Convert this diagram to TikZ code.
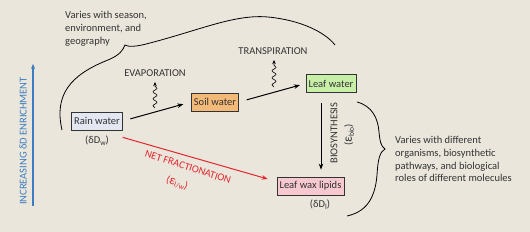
\documentclass[tikz,border=0pt]{standalone}
\usepackage{fontspec}
\setmainfont{Carlito}
\usetikzlibrary{arrows.meta,decorations.pathmorphing,calc}
\definecolor{bg}{HTML}{EAE6DC}
\definecolor{txt}{HTML}{333333}
\definecolor{bluec}{HTML}{3B7DC0}
\definecolor{redc}{HTML}{E3262E}
\definecolor{rainf}{HTML}{E4E6F2}
\definecolor{soilf}{HTML}{F2B978}
\definecolor{leaff}{HTML}{C8EFA8}
\definecolor{waxf}{HTML}{F6C8D0}
\newcommand\mysb[1]{\raisebox{-0.4ex}{\fontsize{7.5}{8}\selectfont #1}}
\newcommand\myeps{{\fontsize{13}{14}\selectfont ε}}
\begin{document}
\begin{tikzpicture}[x=1pt,y=-1pt,
  font=\fontsize{10.5}{12.8}\selectfont, text=txt,
  box/.style={draw=txt, line width=0.7pt, inner sep=2.5pt, minimum height=18pt},
  lbl/.style={inner sep=0pt},
  arr/.style={-{Stealth[length=6pt,width=4.5pt]}, line width=1pt, draw=black},
  wavy/.style={-{Stealth[length=4pt,width=3.5pt]}, line width=0.6pt, decorate,
     decoration={snake, amplitude=2pt, segment length=7pt, post length=4pt}},
  brc/.style={line width=0.8pt, draw=black}]
\fill[bg] (0,0) rectangle (530,232);
\useasboundingbox (0,0) rectangle (530,232);

% blue enrichment axis
\coordinate (ab) at (33,206);
\coordinate (at) at (33,64);
\draw[bluec, line width=1.2pt, -{Stealth[length=5pt,width=4pt]}] (ab) -- (at);
\node[lbl, text=bluec, rotate=90] (axl) at (23,141) {INCREASING δD ENRICHMENT};

% boxes
\node[box, fill=rainf] (rain) at (97,121) {Rain water};
\node[box, fill=soilf] (soil) at (215,102) {Soil water};
\node[box, fill=leaff] (leaf) at (331,83.5) {Leaf water};
\node[box, fill=waxf] (wax) at (310.5,186) {Leaf wax lipids};

\node[lbl] (dw) at (97,141) {(δD\mysb{w})};
\node[lbl] (dl) at (320,205) {(δD\mysb{l})};

% arrows
\draw[arr, shorten <=8pt, shorten >=8pt] (rain.east) -- (soil.west);
\draw[arr, shorten <=8pt, shorten >=6pt] (soil.east) -- (leaf.west);
\draw[arr, shorten <=10pt, shorten >=7pt] ([xshift=-10pt]leaf.south) -- ([xshift=-10pt]leaf.south |- wax.north);
\draw[redc, line width=1pt, -{Stealth[length=6pt,width=4.5pt]}] ($(rain.south east)+(0,7)$) -- ($(wax.west)+(-9,-7)$);

% wavy arrows
\coordinate (ev0) at (155,108);
\coordinate (ev1) at (155,82);
\draw[wavy] (ev0) -- (ev1);
\node[lbl] (evl) at (155,73) {EVAPORATION};
\coordinate (tr0) at (274,87);
\coordinate (tr1) at (274,60);
\draw[wavy] (tr0) -- (tr1);
\node[lbl] (trl) at (273,51) {TRANSPIRATION};

% labels
\node[lbl, rotate=90] (bio) at (334,133) {BIOSYNTHESIS};
\node[lbl, rotate=90] (ebio) at (349,135) {(\myeps\mysb{bio})};
\node[lbl, text=redc, rotate=-18] (nf) at (188,167) {NET FRACTIONATION};
\node[lbl, text=redc, rotate=-18] (elw) at (177,183) {(\myeps\mysb{l/w})};

\node[lbl, anchor=north west, align=left] (t1) at (65,11) {Varies with season,\\environment, and\\geography};
\node[lbl, anchor=north west, align=left] (t2) at (395,136) {Varies with different\\organisms, biosynthetic\\pathways, and biological\\roles of different molecules};

% braces
\draw[brc] (62,130) .. controls (54,95) and (70,75) .. (108,60)
  .. controls (120,55) and (123,50) .. (125,45)
  .. controls (128,47) and (136,47) .. (150,43)
  .. controls (200,30) and (235,14) .. (268,17)
  .. controls (300,20) and (325,32) .. (335,45);
\draw[brc] (357,102) .. controls (372,106) and (378,118) .. (379,132)
  .. controls (380,142) and (381,146) .. (385,149)
  .. controls (380,152) and (378,158) .. (377,175)
  .. controls (375,200) and (365,212) .. (347,216);
\end{tikzpicture}
\end{document}
